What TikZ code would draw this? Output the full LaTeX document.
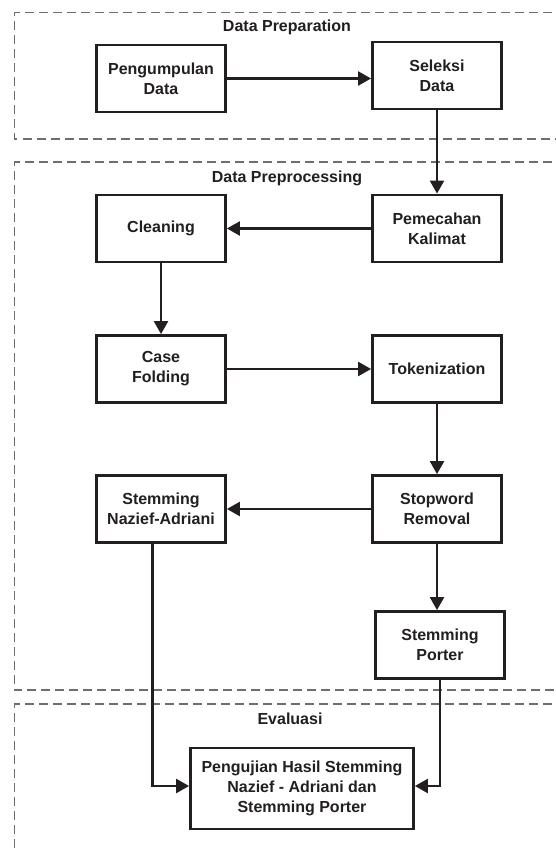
\documentclass[tikz,border=0pt]{standalone}
\usepackage{fontspec}
\setmainfont{Liberation Sans}
\usetikzlibrary{arrows.meta}
\definecolor{ink}{RGB}{35,31,32}
\definecolor{dashgrey}{RGB}{110,110,110}
\tikzset{
  stepbox/.style={draw=ink, line width=2.8pt, fill=white, minimum width=129pt, minimum height=67pt,
    align=center, inner sep=2pt, text=ink, font=\fontsize{16}{20}\selectfont\bfseries},
  arr/.style={draw=ink, line width=2.3pt, -{Triangle[length=13pt,width=14pt]}},
  zone/.style={draw=dashgrey, line width=1.1pt, dash pattern=on 9pt off 5pt},
  zonelabel/.style={text=ink, font=\fontsize{16}{20}\selectfont\bfseries}
}
\begin{document}
\begin{tikzpicture}[x=1pt,y=-1pt]
\useasboundingbox (0,0) rectangle (556,848);
\clip (0,0) rectangle (556,848);
\fill[white] (0,0) rectangle (556,848);
% zones
\draw[zone] (580,12.5) -- (14.5,12.5) -- (14.5,139) -- (580,139);
\draw[zone] (580,162) -- (14.5,162) -- (14.5,690) -- (580,690);
\draw[zone] (580,704) -- (14.5,704) -- (14.5,860);
\node[zonelabel] (lprep) at (287,27) {Data Preparation};
\node[zonelabel] (lpre) at (287,178) {Data Preprocessing};
\node[zonelabel] (leval) at (290,719) {Evaluasi};
% nodes
\node[stepbox] (peng) at (161,78.5) {Pengumpulan\\Data};
\node[stepbox] (sel) at (437,75.5) {Seleksi\\Data};
\node[stepbox] (pem) at (437,228.5) {Pemecahan\\Kalimat};
\node[stepbox] (clean) at (161,228.5) {Cleaning};
\node[stepbox] (case) at (161,369) {Case\\Folding};
\node[stepbox] (tok) at (437,369) {Tokenization};
\node[stepbox] (stop) at (437,509) {Stopword\\Removal};
\node[stepbox] (na) at (161,509) {Stemming\\Nazief-Adriani};
\node[stepbox] (porter) at (440,645) {Stemming\\Porter};
\node[stepbox, minimum width=223pt, minimum height=81pt] (final) at (302,788.5)
  {Pengujian Hasil Stemming\\Nazief - Adriani dan\\Stemming Porter};
% connectors
\draw[arr] (peng.east) -- (peng.east -| sel.west);
\draw[arr] (sel.south) -- (pem.north);
\draw[arr] (pem.west) -- (clean.east);
\draw[arr] (clean.south) -- (case.north);
\draw[arr] (case.east) -- (tok.west);
\draw[arr] (tok.south) -- (stop.north);
\draw[arr] (stop.west) -- (na.east);
\draw[arr] (stop.south) -- (stop.south |- porter.north);
\draw[arr] ([xshift=-8.5pt]na.south) |- ([yshift=2.5pt]final.west);
\draw[arr] (porter.south) |- ([yshift=2.5pt]final.east);
\end{tikzpicture}
\end{document}
